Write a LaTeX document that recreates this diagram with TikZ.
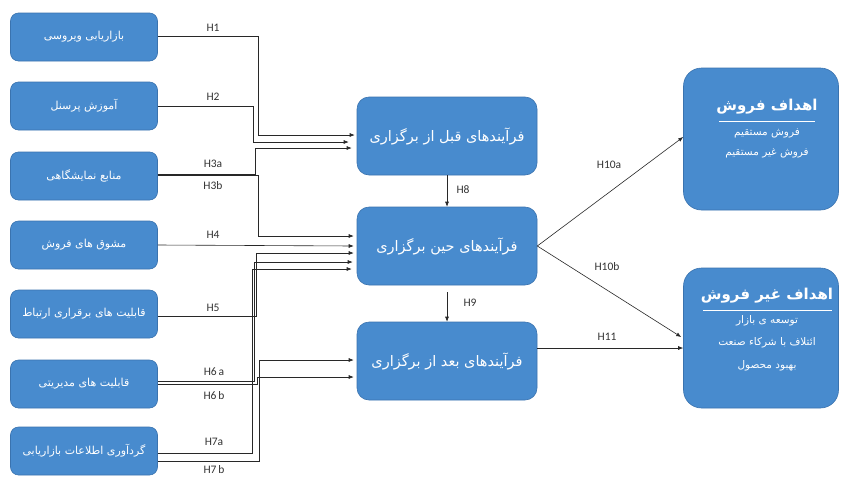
\documentclass[tikz,border=0pt]{standalone}
\usepackage{fontspec}
\setmainfont{Carlito}
\newfontfamily\fa[Script=Arabic]{DejaVu Sans}
\TeXXeTstate=1
\newcommand\FA[1]{{\fa\beginR #1\endR}}
\usetikzlibrary{calc,arrows.meta}
\definecolor{boxblue}{RGB}{72,139,206}
\definecolor{boxedge}{RGB}{58,115,175}
\definecolor{linegray}{RGB}{40,40,40}
\begin{document}
\begin{tikzpicture}[x=1pt,y=-1pt,
  basebox/.style={draw=boxedge, line width=0.6pt, fill=boxblue, text=white, inner sep=2pt, align=center},
  lbox/.style={basebox, rounded corners=8pt, minimum width=147pt, minimum height=48pt, font=\fontsize{11}{13}\selectfont},
  mbox/.style={basebox, rounded corners=12pt, minimum width=180pt, minimum height=78pt, font=\fontsize{14.5}{17}\selectfont},
  rbox/.style={basebox, rounded corners=18pt, minimum width=155pt},
  rtitle/.style={text=white, inner sep=1pt, font=\fontsize{15}{18}\selectfont\bfseries},
  rline/.style={text=white, inner sep=1pt, font=\fontsize{10.5}{12}\selectfont},
  conn/.style={draw=linegray, line width=0.6pt},
  arr/.style={conn, -{Latex[length=5pt,width=4pt]}},
  hl/.style={font=\fontsize{11.5}{13}\selectfont, text=black!80, inner sep=1pt}
]
\useasboundingbox (0,0) rectangle (842,477);
\fill[white] (0,0) rectangle (842,477);

% left boxes
\node[lbox] (l1) at (84,37)  {\FA{بازاریابی ویروسی}};
\node[lbox] (l2) at (84,106) {\FA{آموزش پرسنل}};
\node[lbox] (l3) at (84,176) {\FA{منابع نمایشگاهی}};
\node[lbox] (l4) at (84,245) {\FA{مشوق های فروش}};
\node[lbox] (l5) at (84,314) {\FA{قابلیت های برقراری ارتباط}};
\node[lbox] (l6) at (84,384) {\FA{قابلیت های مدیریتی}};
\node[lbox] (l7) at (84,451) {\FA{گردآوری اطلاعات بازاریابی}};

% middle boxes
\node[mbox] (m1) at (447,136) {\FA{فرآیندهای قبل از برگزاری}};
\node[mbox] (m2) at (447,246) {\FA{فرآیندهای حین برگزاری}};
\node[mbox] (m3) at (447,361) {\FA{فرآیندهای بعد از برگزاری}};

% right boxes
\node[rbox, minimum height=142pt] (r1) at (761,139) {};
\node[rbox, minimum height=140pt] (r2) at (761,338) {};
\node[rtitle] (t1) at (767,107) {\FA{اهداف فروش}};
\draw[white, line width=0.6pt] (719,121) -- (815,121);
\node[rline] (t1a) at (767,133) {\FA{فروش مستقیم}};
\node[rline] (t1b) at (767,153) {\FA{فروش غیر مستقیم}};
\node[rtitle] (t2) at (767,296) {\FA{اهداف غیر فروش}};
\draw[white, line width=0.6pt] (703,310) -- (832,310);
\node[rline] (t2a) at (767,321) {\FA{توسعه ی بازار}};
\node[rline] (t2b) at (767,343) {\FA{ائتلاف با شرکاء صنعت}};
\node[rline] (t2c) at (767,366) {\FA{بهبود محصول}};

% connectors into m1
\draw[arr] ($(l1.east)+(0,-1)$) -- ++(100,0) |- ($(m1.west)+(-2,-1)$);
\draw[arr] (l2.east) -- ++(95,0) |- ($(m1.west)+(-8,6)$);
\draw[arr] ($(l3.east)+(0,-2)$) -- ++(97.5,0) |- ($(m1.west)+(-5,12)$);
% connectors into m2
\draw[arr] ($(l3.east)+(0,-1)$) -- ++(100.5,0) |- ($(m2.west)+(-3,-10)$);
\draw[arr] (l4.east) -- ($(m2.west)+(-3,0)$);
\draw[arr] ($(l5.east)+(0,2)$) -- ++(98.5,0) |- ($(m2.west)+(-3,7)$);
\draw[arr] ($(l6.east)+(0,-3)$) -- ++(96.5,0) |- ($(m2.west)+(-4,16)$);
\draw[arr] ($(l7.east)+(0,2)$) -- ++(94.5,0) |- ($(m2.west)+(-5,23)$);
% connectors into m3
\draw[arr] (l6.east) -- ++(99.5,0) |- ($(m3.west)+(-3,16)$);
\draw[arr] ($(l7.east)+(0,10)$) -- ++(101.5,0) |- ($(m3.west)+(-3,-1)$);
% middle chain
\draw[arr] (m1.south) -- (m2.north);
\draw[arr] ($(m2.south)+(0,7)$) -- (m3.north);
% to the right
\draw[arr] (m2.east) -- ($(r1.west)+(0,-2)$);
\draw[arr] (m2.east) -- ($(r2.west)+(-2,-1)$);
\draw[arr] ($(m3.east)+(0,-13)$) -- ($(r2.west)+(0,10)$);

% labels
\node[hl] (h1) at (213,28) {H1};
\node[hl] (h2) at (213,97) {H2};
\node[hl] (h3a) at (213,164) {H3a};
\node[hl] (h3b) at (213,186) {H3b};
\node[hl] (h4) at (213,235) {H4};
\node[hl] (h5) at (213,308) {H5};
\node[hl] (h6a) at (214,372) {H6\,a};
\node[hl] (h6b) at (214,396) {H6\,b};
\node[hl] (h7a) at (214,442) {H7a};
\node[hl] (h7b) at (214,470) {H7\,b};
\node[hl] (h8) at (463,190) {H8};
\node[hl] (h9) at (470,303) {H9};
\node[hl] (h10a) at (609,165) {H10a};
\node[hl] (h10b) at (607,267) {H10b};
\node[hl] (h11) at (607,337) {H11};
\end{tikzpicture}
\end{document}
